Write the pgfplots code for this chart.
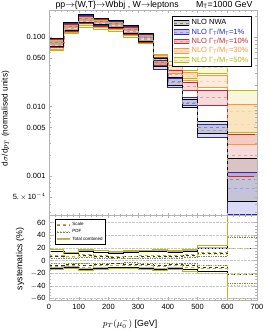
\documentclass[border=0pt]{standalone}
\usepackage{pgfplots}
\pgfplotsset{compat=1.18}
\usepackage{pgfplotstable}
\usepgfplotslibrary{fillbetween}
\usepackage{fontspec}
\setmainfont{Liberation Sans}

\definecolor{cnwa}{RGB}{0,0,0}
\definecolor{cone}{RGB}{40,40,200}
\definecolor{cten}{RGB}{200,40,50}
\definecolor{cthirty}{RGB}{255,150,60}
\definecolor{cfifty}{RGB}{185,185,20}
\definecolor{fnwa}{RGB}{120,110,110}
\definecolor{fone}{RGB}{90,90,210}
\definecolor{ften}{RGB}{215,90,100}
\definecolor{fthirty}{RGB}{255,170,100}
\definecolor{ffifty}{RGB}{225,215,90}

\pgfplotstableread{
x lo c hi
0 0.0742 0.0847 0.0967
50 0.1261 0.1440 0.1617
100 0.1644 0.1877 0.2107
150 0.1513 0.1699 0.1877
200 0.1393 0.1564 0.1728
250 0.1142 0.1304 0.1464
300 0.0876 0.1000 0.1123
350 0.0376 0.0430 0.0491
400 0.0201 0.0233 0.0266
450 0.00984 0.0112 0.0128
500 0.00409 0.00499 0.00608
600 0.000437 0.000891 0.00179
700 0.000437 0.000891 0.00179
}\tabnwa
\pgfplotstableread{
x lo c hi
0 0.0730 0.0833 0.0952
50 0.1240 0.1416 0.1590
100 0.1617 0.1846 0.2073
150 0.1488 0.1671 0.1846
200 0.1370 0.1538 0.1699
250 0.1123 0.1283 0.1440
300 0.0862 0.0984 0.1105
350 0.0346 0.0402 0.0467
400 0.0191 0.0221 0.0257
450 0.0102 0.0116 0.0135
500 0.00364 0.00452 0.00560
600 0.000284 0.000672 0.00112
700 0.000284 0.000672 0.00112
}\tabone
\pgfplotstableread{
x lo c hi
0 0.0718 0.0820 0.0936
50 0.1220 0.1370 0.1538
100 0.1564 0.1786 0.2005
150 0.1440 0.1617 0.1816
200 0.1348 0.1513 0.1671
250 0.1105 0.1240 0.1393
300 0.0847 0.0967 0.1086
350 0.0396 0.0452 0.0516
400 0.0257 0.0294 0.0335
450 0.0173 0.0197 0.0225
500 0.0105 0.0135 0.0173
600 0.000984 0.00201 0.00402
700 0.000984 0.00201 0.00402
}\tabten
\pgfplotstableread{
x lo c hi
0 0.0672 0.0767 0.0876
50 0.1180 0.1326 0.1488
100 0.1488 0.1671 0.1877
150 0.1393 0.1564 0.1728
200 0.1304 0.1464 0.1617
250 0.1069 0.1200 0.1348
300 0.0833 0.0952 0.1069
350 0.0416 0.0475 0.0542
400 0.0303 0.0346 0.0396
450 0.0241 0.0275 0.0314
500 0.0185 0.0229 0.0284
600 0.00284 0.00551 0.0107
700 0.00284 0.00551 0.0107
}\tabthirty
\pgfplotstableread{
x lo c hi
0 0.0650 0.0730 0.0820
50 0.1142 0.1261 0.1416
100 0.1393 0.1590 0.1786
150 0.1304 0.1488 0.1671
200 0.1220 0.1393 0.1564
250 0.1000 0.1142 0.1326
300 0.0806 0.0921 0.1051
350 0.0437 0.0499 0.0569
400 0.0335 0.0389 0.0444
450 0.0257 0.0294 0.0330
500 0.0303 0.0364 0.0437
600 0.00422 0.00848 0.0170
700 0.00422 0.00848 0.0170
}\tabfifty

\pgfplotstableread{
x tu td su sd pu pd
0 14 -12 7 -7 4 -4
50 11 -10 6 -6 4 -4
100 15 -13 8 -8 5 -5
150 13 -12 6 -6 4 -4
200 12 -11 5 -5 4 -4
250 13 -11 6 -6 3 -3
300 14 -12 6 -6 4 -4
350 15 -13 7 -7 4 -4
400 13 -12 6 -6 4 -4
450 15 -14 8 -8 5 -5
500 20 -17 11 -10 7 -7
600 90 -66 20 -21 36 -36
700 90 -66 20 -21 36 -36
}\sysnwa
\pgfplotstableread{
x tu td su sd pu pd
0 17 -14 9 -9 6 -5
50 13 -12 7 -7 5 -4
100 18 -16 10 -10 6 -5
150 16 -14 8 -8 5 -5
200 14 -13 7 -7 4 -4
250 15 -13 7 -7 4 -4
300 16 -14 8 -8 5 -5
350 17 -15 9 -9 5 -5
400 15 -14 8 -8 5 -5
450 18 -17 10 -10 6 -6
500 23 -20 13 -13 9 -8
600 90 -60 19 -22 38 -39
700 90 -60 19 -22 38 -39
}\sysfifty

\newcommand{\band}[4]{%
  \addplot[name path=#4hi, const plot, draw=#2, line width=0.9pt, forget plot] table[x=x,y=hi]{#1};
  \addplot[name path=#4lo, const plot, draw=#2, line width=0.9pt, forget plot] table[x=x,y=lo]{#1};
  \addplot[fill=#3, fill opacity=0.22, draw=none, forget plot] fill between[of=#4hi and #4lo];
  \addplot[const plot, draw=#2!45, dashed, line width=0.5pt, forget plot] table[x=x,y=c]{#1};
}
\newcommand{\bandleg}[2]{%
  \addlegendimage{legend image code/.code={
    \fill[#2, opacity=0.35] (0pt,-2.4pt) rectangle (15pt,2.4pt);
    \draw[#1, line width=0.9pt] (0pt,-2.4pt) -- (15pt,-2.4pt) (0pt,2.4pt) -- (15pt,2.4pt);
    \draw[#1!50, dashed, line width=0.4pt] (0pt,0pt) -- (15pt,0pt);}}
}

\begin{document}
\begin{tikzpicture}
\begin{axis}[
  at={(49pt,115.5pt)}, anchor=south west, scale only axis,
  width=208pt, height=205.5pt,
  xmin=0, xmax=700, ymode=log, ymin=0.00027, ymax=0.245,
  xtick={0,100,...,700}, xticklabels={}, minor x tick num=4,
  ytick={0.0005,0.001,0.005,0.01,0.05,0.1},
  yticklabels={5.\,$\times$\,10$^{-4}$,0.001,0.005,0.010,0.050,0.100},
  minor ytick={0.0003,0.0004,0.0006,0.0007,0.0008,0.0009,0.002,0.003,0.004,0.006,0.007,0.008,0.009,0.02,0.03,0.04,0.06,0.07,0.08,0.09,0.2},
  axis line style={gray!60}, tick style={gray!60},
  major tick length=3pt, minor tick length=1.6pt,
  tick label style={font=\fontsize{7.5}{8}\selectfont},
  /pgf/number format/assume math mode=true,
  axis on top,
  legend cell align=left,
  legend style={at={(rel axis cs:0.976,0.971)}, anchor=north east, draw=black,
    line width=0.8pt, fill=white, font=\fontsize{7.5}{8.5}\selectfont,
    inner sep=1.2pt, row sep=-1.6pt},
]
\band{\tabfifty}{cfifty}{ffifty}{ff}
\band{\tabthirty}{cthirty}{fthirty}{th}
\band{\tabten}{cten}{ften}{te}
\band{\tabone}{cone}{fone}{on}
\band{\tabnwa}{cnwa}{fnwa}{nw}
\bandleg{cnwa}{fnwa}
\addlegendentry{NLO NWA}
\bandleg{cone}{fone}
\addlegendentry{\textcolor{cone}{NLO Γ\textsubscript{T}/M\textsubscript{T}=1\%}}
\bandleg{cten}{ften}
\addlegendentry{\textcolor{cten}{NLO Γ\textsubscript{T}/M\textsubscript{T}=10\%}}
\bandleg{cthirty}{fthirty}
\addlegendentry{\textcolor{cthirty}{NLO Γ\textsubscript{T}/M\textsubscript{T}=30\%}}
\bandleg{cfifty}{ffifty}
\addlegendentry{\textcolor{cfifty}{NLO Γ\textsubscript{T}/M\textsubscript{T}=50\%}}
\end{axis}

\begin{axis}[
  at={(49pt,30.5pt)}, anchor=south west, scale only axis,
  width=208pt, height=85pt,
  xmin=0, xmax=700, ymin=-63, ymax=71,
  xtick={0,100,...,700}, minor x tick num=4,
  ytick={-60,-40,...,60}, yticklabels={$-$60,$-$40,$-$20,0,20,40,60},
  minor y tick num=3,
  ymajorgrids, grid style={densely dotted, gray!45},
  axis line style={gray!60}, tick style={gray!60},
  major tick length=3pt, minor tick length=1.6pt,
  tick label style={font=\fontsize{7.5}{8}\selectfont},
  /pgf/number format/assume math mode=true,
  axis on top,
  legend cell align=left,
  legend style={at={(rel axis cs:0.029,0.955)}, anchor=north west, draw=black,
    line width=0.6pt, fill=white, font=\fontsize{4.5}{5}\selectfont,
    inner sep=0.8pt, row sep=-1.5pt},
]
\addplot[const plot, densely dotted, draw=gray, line width=0.7pt, forget plot] table[x=x,y=pu]{\sysnwa};
\addplot[const plot, densely dotted, draw=gray, line width=0.7pt, forget plot] table[x=x,y=pd]{\sysnwa};
\addplot[const plot, dotted, draw=cfifty!70, line width=0.9pt, forget plot] table[x=x,y=pu]{\sysfifty};
\addplot[const plot, dotted, draw=cfifty!70, line width=0.9pt, forget plot] table[x=x,y=pd]{\sysfifty};
\addplot[const plot, dashed, draw=black!80, line width=0.5pt, forget plot] table[x=x,y=su]{\sysnwa};
\addplot[const plot, dashed, draw=black!80, line width=0.5pt, forget plot] table[x=x,y=sd]{\sysnwa};
\addplot[const plot, dashed, draw=cfifty, line width=0.6pt, forget plot] table[x=x,y=su]{\sysfifty};
\addplot[const plot, dashed, draw=cfifty, line width=0.6pt, forget plot] table[x=x,y=sd]{\sysfifty};
\addplot[const plot, draw=gray!60, line width=1.5pt, forget plot] table[x=x,y=tu]{\sysnwa};
\addplot[const plot, draw=gray!60, line width=1.5pt, forget plot] table[x=x,y=td]{\sysnwa};
\addplot[const plot, draw=black, line width=0.5pt, forget plot] table[x=x,y=tu]{\sysnwa};
\addplot[const plot, draw=black, line width=0.5pt, forget plot] table[x=x,y=td]{\sysnwa};
\addplot[const plot, draw=cfifty, line width=1.1pt, forget plot] table[x=x,y=tu]{\sysfifty};
\addplot[const plot, draw=cfifty, line width=1.1pt, forget plot] table[x=x,y=td]{\sysfifty};
\addlegendimage{legend image code/.code={
  \draw[cfifty, dashed, line width=0.9pt] (0pt,0.5pt) -- (13pt,0.5pt);
  \draw[gray, dashed, line width=0.5pt] (0pt,-0.6pt) -- (13pt,-0.6pt);}}
\addlegendentry{Scale}
\addlegendimage{legend image code/.code={
  \draw[cfifty!70, dotted, line width=0.9pt] (0pt,0.5pt) -- (13pt,0.5pt);
  \draw[gray, densely dotted, line width=0.5pt] (0pt,-0.6pt) -- (13pt,-0.6pt);}}
\addlegendentry{PDF}
\addlegendimage{legend image code/.code={
  \draw[gray!60, line width=1.3pt] (0pt,-0.4pt) -- (13pt,-0.4pt);
  \draw[cfifty, line width=1pt] (0pt,0.6pt) -- (13pt,0.6pt);}}
\addlegendentry{Total combined}
\end{axis}

\node[anchor=base west, font=\fontsize{8.8}{9}\selectfont] at (52pt,323.5pt)
  {pp$\rightarrow$\{W,T\}$\rightarrow$Wbbj , W$\rightarrow$leptons};
\node[anchor=base east, font=\fontsize{8.8}{9}\selectfont] at (256pt,323.5pt)
  {M\textsubscript{T}=1000 GeV};
\node[rotate=90, font=\fontsize{8.3}{9}\selectfont] at (5.5pt,212.5pt)
  {d$\sigma$/d$p_T$ (normalised units)};
\node[rotate=90, font=\fontsize{8.8}{9}\selectfont] at (20pt,72pt)
  {systematics (\%)};
\node[anchor=base, font=\fontsize{8.8}{9}\selectfont] at (130pt,4.5pt)
  {$p_T(\mu^{-}_{0})$ [GeV]};
\pgfresetboundingbox
\path[use as bounding box] (0,0) rectangle (270pt,331pt);
\end{tikzpicture}
\end{document}
